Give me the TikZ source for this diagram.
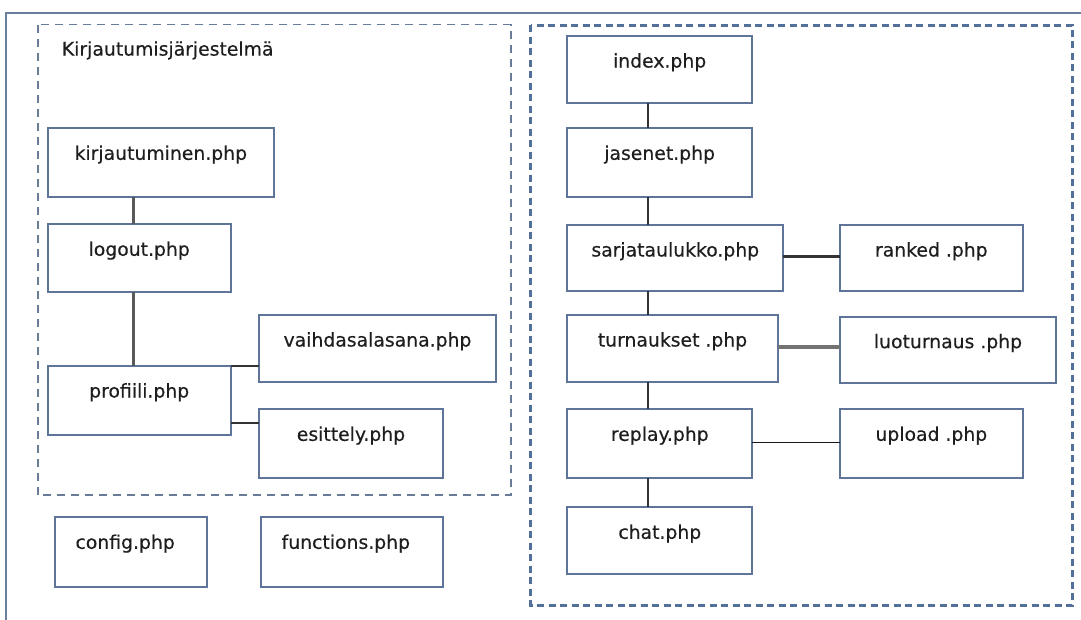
\documentclass[tikz,border=0pt]{standalone}
\usepackage{fontspec}
\setmainfont{DejaVu Sans}[FakeBold=0.35]
\definecolor{boxc}{HTML}{5F7499}
\definecolor{framec}{HTML}{6A7FA0}
\definecolor{dashl}{HTML}{687B97}
\definecolor{dashr}{HTML}{52709A}
\definecolor{txt}{HTML}{1E1E1E}
\tikzset{
  filebox/.style={draw=boxc, line width=1.9pt, fill=white, inner sep=0pt, outer sep=0pt,
    text height=31.5pt, anchor=north west, align=center, text=txt,
    font=\fontsize{18.8}{22}\selectfont},
  conthick/.style={draw=black!65, line width=3pt},
  condark/.style={draw=black!80, line width=2.2pt},
  congray/.style={draw=black!55, line width=3.8pt},
  conthin/.style={draw=black!90, line width=1.6pt},
  grpleft/.style={draw=dashl, line width=1.6pt, dash pattern=on 8pt off 6pt},
  grpright/.style={draw=dashr, line width=3pt, dash pattern=on 7pt off 4.5pt},
  titletext/.style={anchor=base west, inner sep=0pt, text=txt, font=\fontsize{18.8}{22}\selectfont}
}
\begin{document}
\begin{tikzpicture}[x=1pt,y=-1pt]
\useasboundingbox (0,0) rectangle (1081,619);
\fill[white] (0,0) rectangle (1081,619);
\clip (0,0) rectangle (1081,619);
% outer frame
\draw[draw=framec, line width=2pt] (6,13.3) rectangle (1095,640);
% group frames
\draw[grpleft] (37.7,24.5) rectangle (511,495);
\draw[grpright] (530.6,25) rectangle (1072.7,605);
\node[titletext] (title) at (61.7,55.6) {Kirjautumisjärjestelmä};
% left boxes
\node[filebox, minimum width=226.3pt, text depth=37.5pt] (kirj) at (47.7,128.3) {kirjautuminen.php};
\node[filebox, minimum width=183pt, text depth=35.9pt] (logout) at (47.7,224.3) {logout.php};
\node[filebox, minimum width=183pt, text depth=37.5pt] (profiili) at (47.7,366) {profiili.php};
\node[filebox, minimum width=236.4pt, text depth=35.2pt] (vaihda) at (259.3,315) {vaihdasalasana.php};
\node[filebox, minimum width=183.4pt, text depth=37.5pt] (esittely) at (259.3,409.3) {esittely.php};
\node[filebox, minimum width=152.3pt, text depth=38.5pt] (config) at (55,517.3) {config.php\hspace*{12pt}};
\node[filebox, minimum width=181.7pt, text depth=38.5pt] (functions) at (261,517.3) {functions.php\hspace*{12pt}};
% right boxes
\node[filebox, minimum width=184.7pt, text depth=35.5pt] (index) at (567.3,36) {index.php};
\node[filebox, minimum width=184.7pt, text depth=36.9pt] (jasenet) at (567.3,128.3) {jasenet.php};
\node[filebox, minimum width=216pt, text depth=34.5pt] (sarja) at (567.3,225) {sarjataulukko.php};
\node[filebox, minimum width=182.7pt, text depth=34.5pt] (ranked) at (840,225) {ranked .php};
\node[filebox, minimum width=210.4pt, text depth=35.2pt] (turn) at (567.3,315) {turnaukset .php};
\node[filebox, minimum width=216pt, text depth=35.1pt] (luo) at (840,316.7) {luoturnaus .php};
\node[filebox, minimum width=185pt, text depth=36.9pt] (replay) at (567.3,409.3) {replay.php};
\node[filebox, minimum width=182.7pt, text depth=37.2pt] (upload) at (840,409.3) {upload .php};
\node[filebox, minimum width=185pt, text depth=35.2pt] (chat) at (567.3,507.3) {chat.php};
% left connectors
\draw[conthick] ([xshift=85.6pt]kirj.south west) -- ([xshift=85.6pt]logout.north west);
\draw[conthick] ([xshift=85.6pt]logout.south west) -- ([xshift=85.6pt]profiili.north west);
\coordinate (p1) at (profiili.north east);
\coordinate (p2) at ([yshift=-56.7pt]profiili.north east);
\draw[condark] (p1) -- (p1 -| vaihda.west);
\draw[condark] (p2) -- (p2 -| esittely.west);
% right connectors
\draw[condark] ([xshift=81pt]index.south west) -- ([xshift=81pt]jasenet.north west);
\draw[condark] ([xshift=81pt]jasenet.south west) -- ([xshift=81pt]sarja.north west);
\draw[condark] ([xshift=81pt]sarja.south west) -- ([xshift=81pt]turn.north west);
\draw[condark] ([xshift=81pt]turn.south west) -- ([xshift=81pt]replay.north west);
\draw[condark] ([xshift=81pt]replay.south west) -- ([xshift=81pt]chat.north west);
\coordinate (s1) at ([yshift=-31.7pt]sarja.north east);
\coordinate (t1) at ([yshift=-32.3pt]turn.north east);
\coordinate (r1) at ([yshift=-33pt]replay.north east);
\draw[condark, line width=2.6pt] (s1) -- (s1 -| ranked.west);
\draw[congray] (t1) -- (t1 -| luo.west);
\draw[conthin] (r1) -- (r1 -| upload.west);
\end{tikzpicture}
\end{document}
